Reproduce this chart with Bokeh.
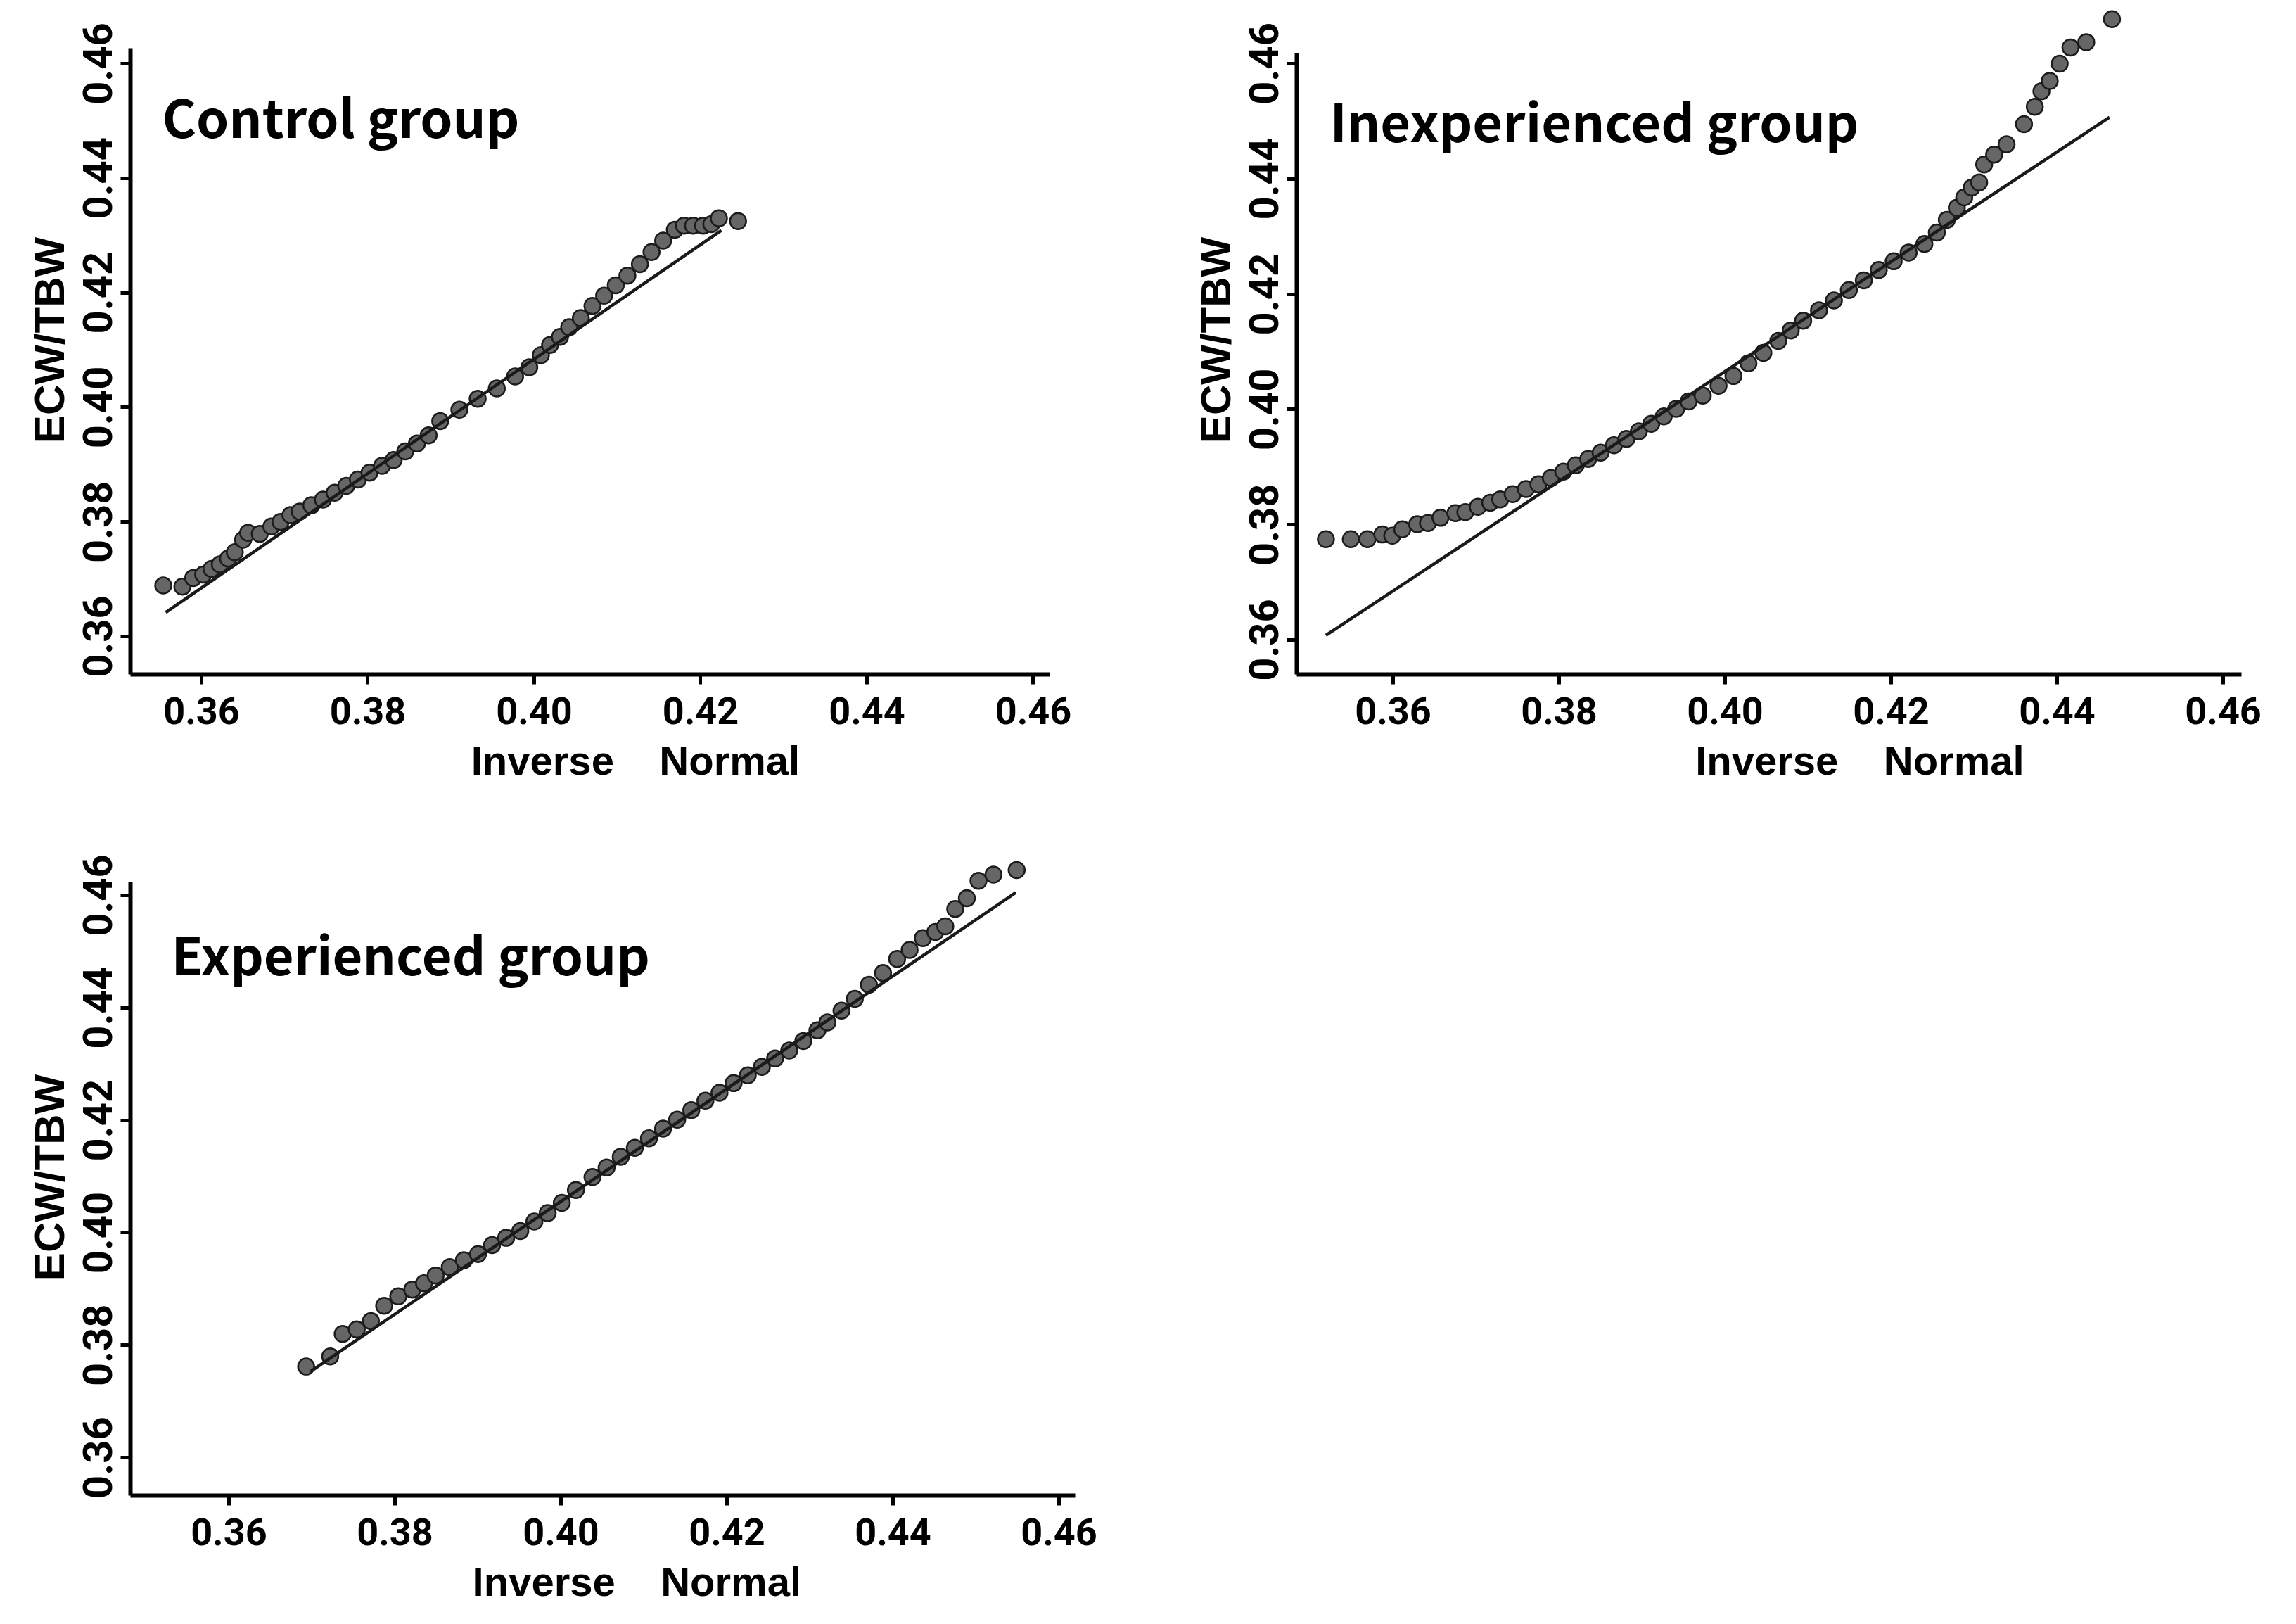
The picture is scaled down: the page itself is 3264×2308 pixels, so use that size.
from bokeh.plotting import figure
from bokeh.layouts import column, row
from bokeh.models import FixedTicker, NumeralTickFormatter, Label, Range1d
from bokeh.embed import file_html
from bokeh.resources import INLINE

# ---------------- data ----------------
tick_values = [0.36, 0.38, 0.40, 0.42, 0.44, 0.46]
x_axis_words = "Inverse\u00a0\u00a0\u00a0\u00a0Normal"
y_axis_title = "ECW/TBW"

ctrl_title = "Control group"
ctrl_x = [0.3554, 0.3577, 0.3590, 0.3602, 0.3612, 0.3622, 0.3632, 0.3640, 0.3650, 0.3656,
          0.3670, 0.3684, 0.3695, 0.3707, 0.3718, 0.3732, 0.3746, 0.3760, 0.3774, 0.3788,
          0.3802, 0.3817, 0.3831, 0.3845, 0.3859, 0.3873, 0.3887, 0.3910, 0.3932, 0.3955,
          0.3977, 0.3994, 0.4008, 0.4019, 0.4031, 0.4042, 0.4056, 0.4070, 0.4084, 0.4098,
          0.4112, 0.4127, 0.4141, 0.4155, 0.4169, 0.4180, 0.4191, 0.4203, 0.4213, 0.4222,
          0.4245]
ctrl_y = [0.3689, 0.3687, 0.3702, 0.3708, 0.3718, 0.3726, 0.3736, 0.3747, 0.3769, 0.3781,
          0.3779, 0.3792, 0.3800, 0.3812, 0.3818, 0.3829, 0.3839, 0.3851, 0.3863, 0.3874,
          0.3886, 0.3898, 0.3908, 0.3923, 0.3937, 0.3951, 0.3976, 0.3996, 0.4015, 0.4033,
          0.4054, 0.4070, 0.4091, 0.4109, 0.4123, 0.4140, 0.4156, 0.4177, 0.4195, 0.4213,
          0.4230, 0.4250, 0.4271, 0.4291, 0.4310, 0.4317, 0.4317, 0.4317, 0.4320, 0.4330,
          0.4325]
ctrl_line_x = [0.3557, 0.4225]
ctrl_line_y = [0.3642, 0.4309]

inexp_title = "Inexperienced group"
inexp_x = [0.3519, 0.3549, 0.3569, 0.3587, 0.3599, 0.3611, 0.3629, 0.3642, 0.3657, 0.3675,
           0.3687, 0.3702, 0.3717, 0.3729, 0.3744, 0.3760, 0.3775, 0.3790, 0.3805, 0.3820,
           0.3835, 0.3850, 0.3866, 0.3881, 0.3896, 0.3911, 0.3926, 0.3941, 0.3956, 0.3973,
           0.3992, 0.4010, 0.4028, 0.4046, 0.4064, 0.4079, 0.4094, 0.4113, 0.4131, 0.4149,
           0.4167, 0.4185, 0.4203, 0.4221, 0.4240, 0.4255, 0.4267, 0.4279, 0.4288, 0.4297,
           0.4306, 0.4312, 0.4324, 0.4339, 0.4360, 0.4373, 0.4381, 0.4391, 0.4403, 0.4416,
           0.4435, 0.4466]
inexp_y = [0.3775, 0.3775, 0.3775, 0.3783, 0.3781, 0.3792, 0.3801, 0.3803, 0.3812, 0.3820,
           0.3822, 0.3831, 0.3838, 0.3844, 0.3853, 0.3862, 0.3870, 0.3881, 0.3892, 0.3903,
           0.3914, 0.3925, 0.3938, 0.3949, 0.3962, 0.3975, 0.3988, 0.4001, 0.4014, 0.4024,
           0.4041, 0.4058, 0.4080, 0.4098, 0.4119, 0.4137, 0.4154, 0.4172, 0.4189, 0.4207,
           0.4224, 0.4242, 0.4257, 0.4272, 0.4287, 0.4307, 0.4329, 0.4350, 0.4368, 0.4385,
           0.4394, 0.4425, 0.4442, 0.4460, 0.4495, 0.4525, 0.4552, 0.4570, 0.4600, 0.4628,
           0.4637, 0.4677]
inexp_line_x = [0.3519, 0.4463]
inexp_line_y = [0.3608, 0.4507]

exp_title = "Experienced group"
exp_x = [0.3693, 0.3722, 0.3737, 0.3754, 0.3771, 0.3787, 0.3804, 0.3821, 0.3835, 0.3849,
         0.3866, 0.3883, 0.3900, 0.3917, 0.3934, 0.3951, 0.3968, 0.3984, 0.4001, 0.4018,
         0.4038, 0.4055, 0.4072, 0.4089, 0.4106, 0.4123, 0.4140, 0.4157, 0.4174, 0.4191,
         0.4208, 0.4225, 0.4242, 0.4258, 0.4275, 0.4292, 0.4309, 0.4321, 0.4338, 0.4354,
         0.4371, 0.4388, 0.4405, 0.4420, 0.4436, 0.4451, 0.4463, 0.4475, 0.4489, 0.4503,
         0.4521, 0.4549]
exp_y = [0.3762, 0.3780, 0.3820, 0.3828, 0.3843, 0.3870, 0.3887, 0.3899, 0.3910, 0.3924,
         0.3939, 0.3951, 0.3962, 0.3978, 0.3991, 0.4003, 0.4020, 0.4035, 0.4053, 0.4076,
         0.4099, 0.4116, 0.4135, 0.4151, 0.4168, 0.4185, 0.4201, 0.4218, 0.4235, 0.4249,
         0.4266, 0.4280, 0.4295, 0.4310, 0.4324, 0.4341, 0.4360, 0.4374, 0.4395, 0.4416,
         0.4441, 0.4462, 0.4487, 0.4503, 0.4524, 0.4535, 0.4545, 0.4576, 0.4595, 0.4626,
         0.4637, 0.4645]
exp_line_x = [0.3698, 0.4548]
exp_line_y = [0.3753, 0.4605]


def make_panel(xs, ys, lx, ly, title, title_pos, x_rng, y_rng, y_top_bound,
               width, height, bl, br, bt, bb, xlabel_pad):
    p = figure(width=width, height=height,
               x_range=Range1d(*x_rng), y_range=Range1d(*y_rng),
               output_backend="svg", toolbar_location=None,
               min_border_left=bl, min_border_right=br,
               min_border_top=bt, min_border_bottom=bb)
    p.grid.visible = False
    p.outline_line_color = None
    p.background_fill_color = "white"
    p.border_fill_color = "white"

    p.scatter(xs, ys, marker="circle", size=23, fill_color="#666666",
              line_color="#1c1c1c", line_width=2.5)
    p.line(lx, ly, line_width=4.5, line_color="#1a1a1a")

    for ax in (p.xaxis[0], p.yaxis[0]):
        ax.ticker = FixedTicker(ticks=tick_values)
        ax.formatter = NumeralTickFormatter(format="0.00")
        ax.axis_line_width = 6
        ax.axis_line_color = "black"
        ax.major_tick_line_width = 5
        ax.major_tick_line_color = "black"
        ax.major_tick_out = 14
        ax.major_tick_in = 0
        ax.minor_tick_line_color = None
        ax.major_label_text_font = "Roboto"
        ax.major_label_text_font_style = "bold"
        ax.major_label_text_color = "black"
        ax.axis_label_text_font = "Liberation Sans"
        ax.axis_label_text_font_style = "bold"
        ax.axis_label_text_color = "black"

    p.xaxis.major_label_text_font_size = "54px"
    p.xaxis.major_label_standoff = 18
    p.xaxis.axis_label = "\u00a0" * xlabel_pad + x_axis_words
    p.xaxis.axis_label_standoff = 16
    p.xaxis.axis_label_text_font_size = "58px"

    p.yaxis.major_label_text_font_size = "58px"
    p.yaxis.major_label_orientation = "vertical"
    p.yaxis.major_label_standoff = 12
    p.yaxis.axis_label = y_axis_title
    p.yaxis.axis_label_standoff = 12
    p.yaxis.axis_label_text_font_size = "60px"
    p.yaxis.bounds = (y_rng[0], y_top_bound)

    p.add_layout(Label(x=title_pos[0], y=title_pos[1], text=title,
                       text_font="Noto Sans CJK JP", text_font_style="bold",
                       text_font_size="74px", text_color="black",
                       text_baseline="alphabetic", text_align="left"))
    return p


p1 = make_panel(ctrl_x, ctrl_y, ctrl_line_x, ctrl_line_y, ctrl_title,
                (0.35526, 0.4510), (0.35146, 0.46199), (0.35337, 0.47007), 0.46270,
                1642, 1142, 185, 150, 8, 184, 8)
p2 = make_panel(inexp_x, inexp_y, inexp_line_x, inexp_line_y, inexp_title,
                (0.35237, 0.4503), (0.34839, 0.46220), (0.35402, 0.47000), 0.46180,
                1594, 1142, 201, 50, 8, 184, 16)
p3 = make_panel(exp_x, exp_y, exp_line_x, exp_line_y, exp_title,
                (0.35305, 0.4498), (0.34814, 0.46195), (0.35325, 0.46638), 0.46238,
                1628, 1140, 185, 100, 79, 156, 6)

layout = column(row(p1, p2), p3)

open("out.html", "w").write(file_html(layout, INLINE))
